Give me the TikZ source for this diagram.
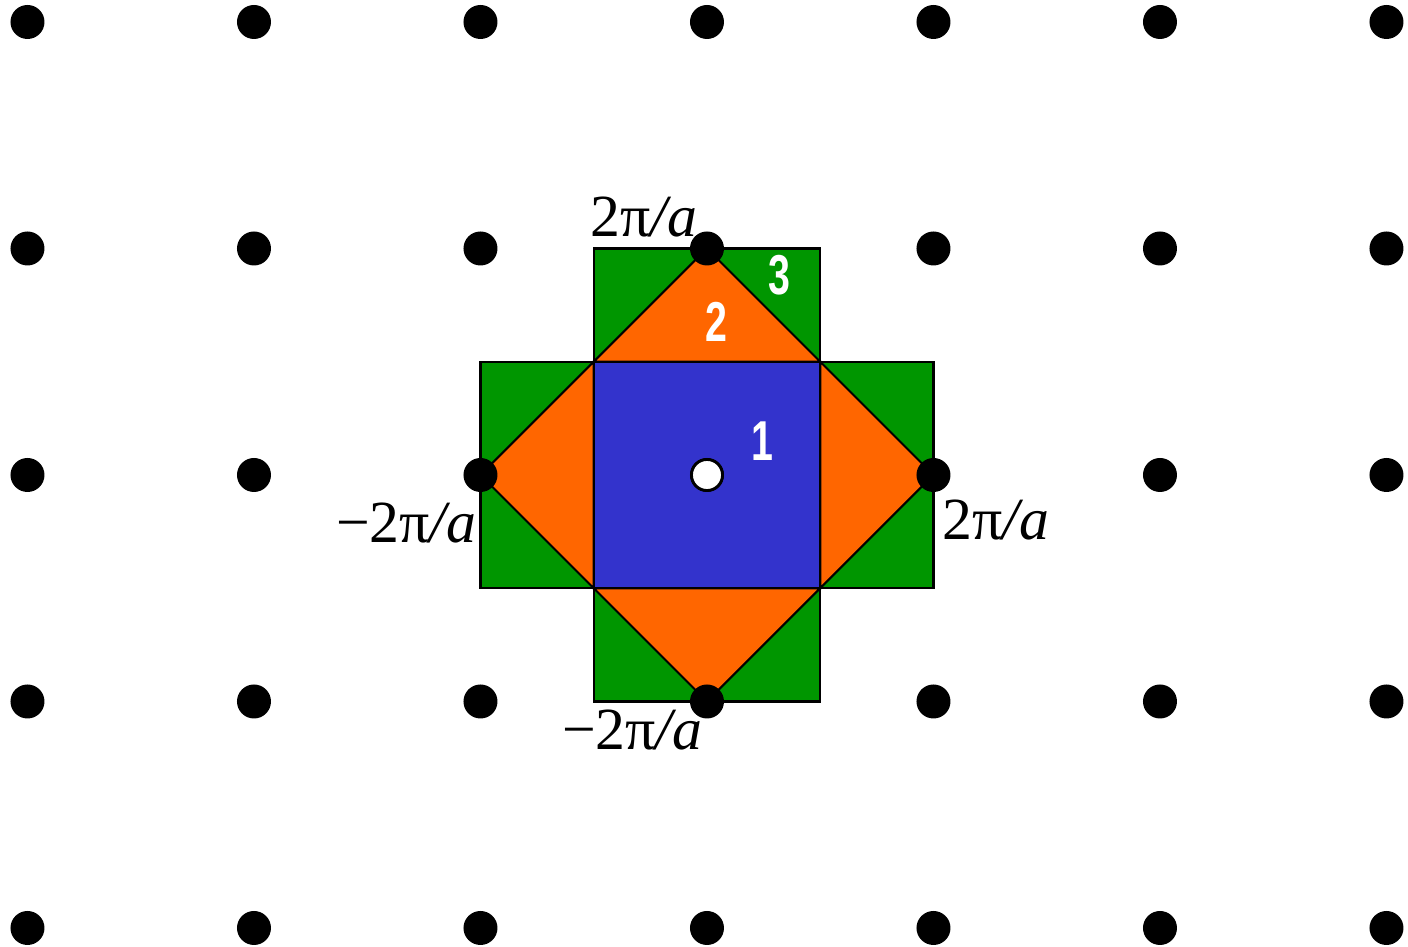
\documentclass[tikz,border=0pt]{standalone}
\usepackage{graphicx,fontspec}
\setmainfont{Liberation Serif}
\newfontfamily\zonefont{Liberation Sans}
\definecolor{zonegreen}{RGB}{0,150,0}
\definecolor{zoneorange}{RGB}{255,102,0}
\definecolor{zoneblue}{RGB}{51,51,204}

\begin{document}
\begin{tikzpicture}[x=2.265cm,y=2.265cm,
  latdot/.style={circle,fill=black,inner sep=0,minimum size=0.34cm},
  klabel/.style={inner sep=0,font=\fontsize{17}{17}\selectfont},
  zonenum/.style={inner sep=0,text=white,font=\zonefont\bfseries\fontsize{16}{16}\selectfont}]
  \useasboundingbox (-3.1214,-2.0839) rectangle (3.0949,2.0971);
  % third zone
  \fill[zonegreen] (-.5,.5) rectangle (.5,1) (-.5,-.5) rectangle (.5,-1) (-1,-.5) rectangle (-.5,.5) (.5,-.5) rectangle (1,.5);
  % second zone and first zone
  \fill[zoneorange] (0,1) -- (1,0) -- (0,-1) -- (-1,0) -- cycle;
  \fill[zoneblue] (-.5,-.5) rectangle (.5,.5);
  \draw[line width=.6pt] (-.5,.5) rectangle (.5,1) (-.5,-.5) rectangle (.5,-1) (-1,-.5) rectangle (-.5,.5) (.5,-.5) rectangle (1,.5);
  \draw[line width=.6pt] (0,1) -- (1,0) -- (0,-1) -- (-1,0) -- cycle (-.5,-.5) rectangle (.5,.5);
  % reciprocal lattice
  \foreach \i in {-3,...,3} \foreach \j in {-2,...,2} {
    \node[latdot] (p\i\j) at (\i,\j) {};
  }
  \node[circle,draw=black,fill=white,line width=.8pt,inner sep=0,minimum size=0.31cm] (gamma) at (0,0) {};
  \node[zonenum] (n1) at (.247,.150) {\scalebox{.7}[1]{1}};
  \node[zonenum] (n2) at (.040,.675) {\scalebox{.7}[1]{2}};
  \node[zonenum] (n3) at (.318,.883) {\scalebox{.7}[1]{3}};
  \node[klabel,anchor=base east] (ky) at (-.040,1.051) {2π\textit{/a}};
  \node[klabel,anchor=base east] (kmx) at (-1.015,-.296) {−2π\textit{/a}};
  \node[klabel,anchor=base east] (kmy) at (-.018,-1.214) {−2π\textit{/a}};
  \node[klabel,anchor=base west] (kx) at (1.038,-.287) {2π\textit{/a}};
\end{tikzpicture}
\end{document}
